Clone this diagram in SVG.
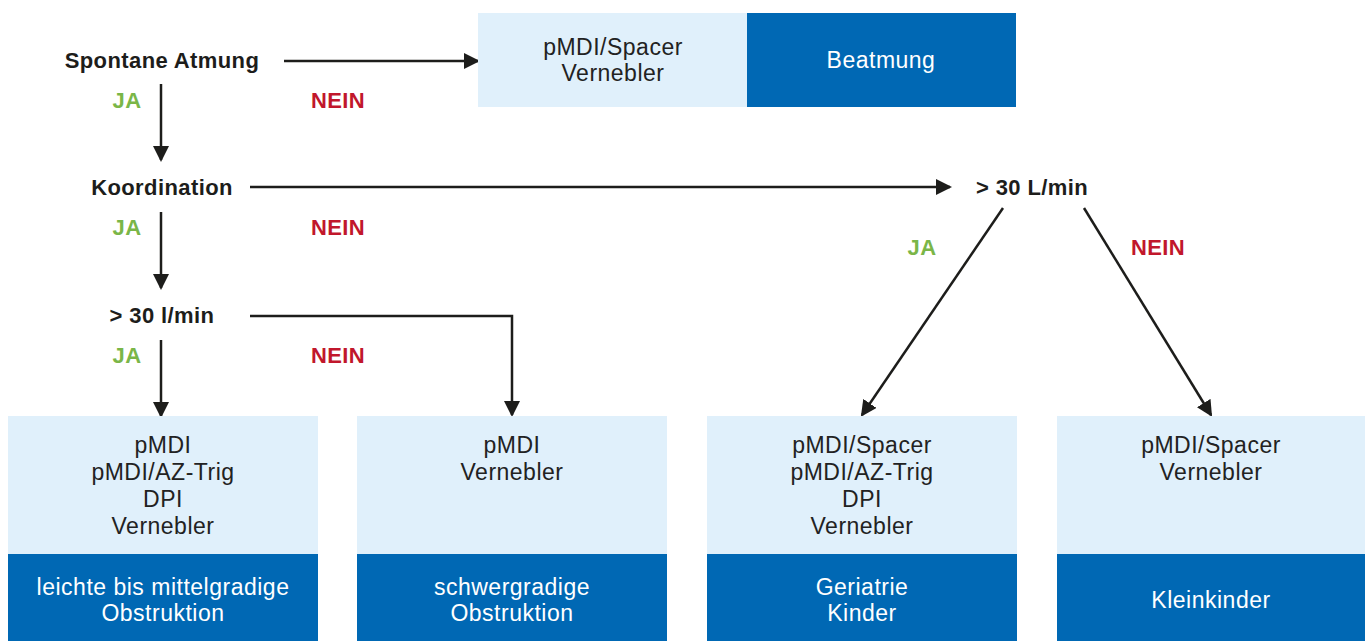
<svg xmlns="http://www.w3.org/2000/svg" width="1365" height="641" viewBox="0 0 1365 641">
<defs>
<marker id="ah" markerWidth="16" markerHeight="16" refX="14" refY="8" orient="auto" markerUnits="userSpaceOnUse">
<path d="M0,0 L16,8 L0,16 Z" fill="#1d1d1b"/>
</marker>
</defs>
<style>
.lt{fill:#e0f0fb}
.dk{fill:#0068b4}
.bt{font-family:"Liberation Sans",Arial,sans-serif;font-size:23px;letter-spacing:0.5px;fill:#222;text-anchor:middle}
.wt{font-family:"Liberation Sans",Arial,sans-serif;font-size:23px;letter-spacing:0.5px;fill:#fff;text-anchor:middle}
.q{font-family:"Liberation Sans",Arial,sans-serif;font-size:22px;letter-spacing:0.4px;font-weight:bold;fill:#1d1d1b;text-anchor:middle}
.ja{font-family:"Liberation Sans",Arial,sans-serif;font-size:22px;letter-spacing:0.4px;font-weight:bold;fill:#7ab648;text-anchor:middle}
.nein{font-family:"Liberation Sans",Arial,sans-serif;font-size:22px;letter-spacing:0.4px;font-weight:bold;fill:#c1172c;text-anchor:middle}
.c{stroke:#1d1d1b;stroke-width:2.5;fill:none}
</style>
<rect width="1365" height="641" fill="#fff"/>
<g id="connectors">
<line class="c" x1="284" y1="61" x2="478" y2="61" marker-end="url(#ah)"/>
<line class="c" x1="161" y1="84" x2="161" y2="160" marker-end="url(#ah)"/>
<line class="c" x1="250" y1="187" x2="950" y2="187" marker-end="url(#ah)"/>
<line class="c" x1="161" y1="212" x2="161" y2="288" marker-end="url(#ah)"/>
<polyline class="c" points="250,316 512,316 512,415" marker-end="url(#ah)"/>
<line class="c" x1="161" y1="340" x2="161" y2="416" marker-end="url(#ah)"/>
<line class="c" x1="1003" y1="208" x2="862" y2="415" marker-end="url(#ah)"/>
<line class="c" x1="1084" y1="208" x2="1211" y2="415" marker-end="url(#ah)"/>
</g>
<g id="labels">
<text class="ja" x="127" y="108">JA</text>
<text class="nein" x="338" y="108">NEIN</text>
<text class="ja" x="127" y="235">JA</text>
<text class="nein" x="338" y="235">NEIN</text>
<text class="ja" x="127" y="363">JA</text>
<text class="nein" x="338" y="363">NEIN</text>
<text class="ja" x="922" y="255">JA</text>
<text class="nein" x="1158" y="255">NEIN</text>
</g>
<g id="q-spontan"><text class="q" x="162" y="68">Spontane Atmung</text></g>
<g id="q-koordination"><text class="q" x="162" y="195">Koordination</text></g>
<g id="q-30l"><text class="q" x="162" y="323">&gt; 30 l/min</text></g>
<g id="q-30L"><text class="q" x="1032" y="195">&gt; 30 L/min</text></g>
<g id="top-box">
<rect class="lt" x="478" y="13" width="269" height="94"/>
<rect class="dk" x="747" y="13" width="269" height="94"/>
<text class="bt" x="613" y="55">pMDI/Spacer</text>
<text class="bt" x="613" y="81">Vernebler</text>
<text class="wt" x="881" y="68">Beatmung</text>
</g>
<g id="box-leicht">
<rect class="lt" x="8" y="416" width="310" height="138"/>
<rect class="dk" x="8" y="554" width="310" height="87"/>
<text class="bt" x="163" y="453">pMDI</text>
<text class="bt" x="163" y="480">pMDI/AZ-Trig</text>
<text class="bt" x="163" y="507">DPI</text>
<text class="bt" x="163" y="534">Vernebler</text>
<text class="wt" x="163" y="595">leichte bis mittelgradige</text>
<text class="wt" x="163" y="621">Obstruktion</text>
</g>
<g id="box-schwer">
<rect class="lt" x="357" y="416" width="310" height="138"/>
<rect class="dk" x="357" y="554" width="310" height="87"/>
<text class="bt" x="512" y="453">pMDI</text>
<text class="bt" x="512" y="480">Vernebler</text>
<text class="wt" x="512" y="595">schwergradige</text>
<text class="wt" x="512" y="621">Obstruktion</text>
</g>
<g id="box-geriatrie">
<rect class="lt" x="707" y="416" width="310" height="138"/>
<rect class="dk" x="707" y="554" width="310" height="87"/>
<text class="bt" x="862" y="453">pMDI/Spacer</text>
<text class="bt" x="862" y="480">pMDI/AZ-Trig</text>
<text class="bt" x="862" y="507">DPI</text>
<text class="bt" x="862" y="534">Vernebler</text>
<text class="wt" x="862" y="595">Geriatrie</text>
<text class="wt" x="862" y="621">Kinder</text>
</g>
<g id="box-kleinkinder">
<rect class="lt" x="1057" y="416" width="308" height="138"/>
<rect class="dk" x="1057" y="554" width="308" height="87"/>
<text class="bt" x="1211" y="453">pMDI/Spacer</text>
<text class="bt" x="1211" y="480">Vernebler</text>
<text class="wt" x="1211" y="608">Kleinkinder</text>
</g>
</svg>
